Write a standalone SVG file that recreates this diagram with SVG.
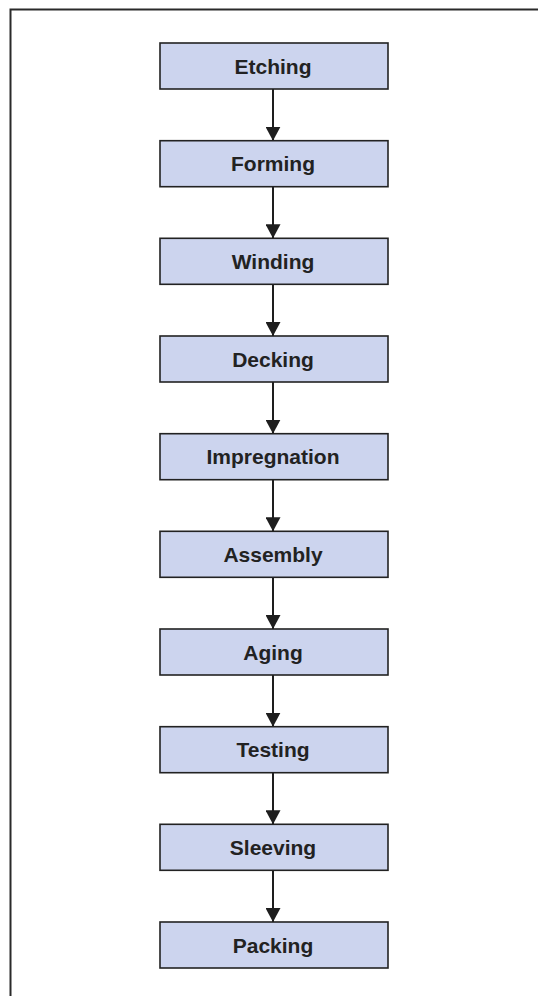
<svg xmlns="http://www.w3.org/2000/svg" width="538" height="996" viewBox="0 0 538 996">
<defs>
<style>
.box rect{fill:#ccd4ee;stroke:#222;stroke-width:1.6}
.box text{font-family:"Liberation Sans",Arial,sans-serif;font-size:21px;font-weight:bold;fill:#222;text-anchor:middle}
.conn line{stroke:#1e1e1e;stroke-width:2}
</style>
<marker id="ah" viewBox="0 0 14 15" refX="14" refY="7.5" markerWidth="14" markerHeight="15" markerUnits="userSpaceOnUse" orient="auto">
<path d="M0,0 L14,7.5 L0,15 Z" fill="#1e1e1e"/>
</marker>
</defs>
<rect width="538" height="996" fill="#fff"/>
<rect x="10.5" y="9.5" width="560" height="1000" fill="none" stroke="#2a2a2a" stroke-width="2"/>
<g class="conn">
<line x1="273" y1="89" x2="273" y2="140.7" marker-end="url(#ah)"/>
<line x1="273" y1="186.7" x2="273" y2="238.3" marker-end="url(#ah)"/>
<line x1="273" y1="284.3" x2="273" y2="336" marker-end="url(#ah)"/>
<line x1="273" y1="382" x2="273" y2="433.7" marker-end="url(#ah)"/>
<line x1="273" y1="479.7" x2="273" y2="531.3" marker-end="url(#ah)"/>
<line x1="273" y1="577.3" x2="273" y2="629" marker-end="url(#ah)"/>
<line x1="273" y1="675" x2="273" y2="726.7" marker-end="url(#ah)"/>
<line x1="273" y1="772.7" x2="273" y2="824.3" marker-end="url(#ah)"/>
<line x1="273" y1="870.3" x2="273" y2="922" marker-end="url(#ah)"/>
</g>
<g id="etching" class="box"><rect x="160" y="43" width="228" height="46"/><text x="273" y="73.5">Etching</text></g>
<g id="forming" class="box"><rect x="160" y="140.7" width="228" height="46"/><text x="273" y="171.2">Forming</text></g>
<g id="winding" class="box"><rect x="160" y="238.3" width="228" height="46"/><text x="273" y="268.8">Winding</text></g>
<g id="decking" class="box"><rect x="160" y="336" width="228" height="46"/><text x="273" y="366.5">Decking</text></g>
<g id="impregnation" class="box"><rect x="160" y="433.7" width="228" height="46"/><text x="273" y="464.2">Impregnation</text></g>
<g id="assembly" class="box"><rect x="160" y="531.3" width="228" height="46"/><text x="273" y="561.8">Assembly</text></g>
<g id="aging" class="box"><rect x="160" y="629" width="228" height="46"/><text x="273" y="659.5">Aging</text></g>
<g id="testing" class="box"><rect x="160" y="726.7" width="228" height="46"/><text x="273" y="757.2">Testing</text></g>
<g id="sleeving" class="box"><rect x="160" y="824.3" width="228" height="46"/><text x="273" y="854.8">Sleeving</text></g>
<g id="packing" class="box"><rect x="160" y="922" width="228" height="46"/><text x="273" y="952.5">Packing</text></g>
</svg>
